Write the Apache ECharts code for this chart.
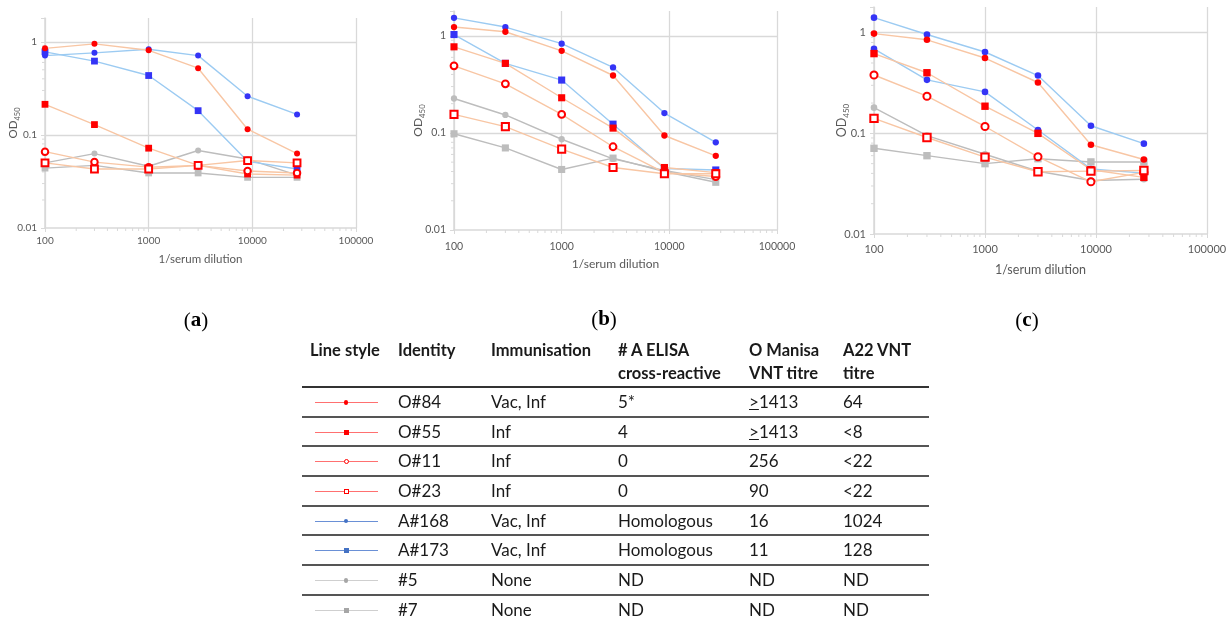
<!DOCTYPE html>
<html>
<head>
<meta charset="utf-8" />
<title>OD450 titration curves</title>
<script src="https://cdn.jsdelivr.net/npm/echarts/dist/echarts.min.js"></script>
<style>
	html, body { margin: 0; padding: 0; background: #fff; }
	#main { position: absolute; left: 0; top: 0; width: 1231px; height: 623px; }
	#legendTable { position: absolute; left: 302px; top: 339px; width: 627px; table-layout: fixed; border-collapse: collapse;
		font-family: Lato, "Open Sans", sans-serif; font-size: 17px; color: #1a1a1a; }
	#legendTable th { font-weight: bold; font-size: 16.5px; text-align: left; vertical-align: top; line-height: 23px;
		height: 47px; padding: 0 0 0 6px; border-bottom: 2px solid #333; }
	#legendTable td { height: 27.7px; padding: 0 0 0 6px; border-bottom: 2px solid #555; line-height: 18px; }
	.sample { position: relative; width: 88px; height: 20px; }
	.sample .ln { position: absolute; left: 13px; top: 10px; width: 63px; height: 1px; }
	.sample .mk { position: absolute; box-sizing: border-box; }
</style>
</head>
<body>
<div id="main"></div>
<table id="legendTable"><colgroup id="cols"></colgroup><thead id="tableHead"></thead><tbody id="tableBody"></tbody></table>
<script type="text/javascript">
	// x values: 1/serum dilution
	var dilutions = [100, 300, 1000, 3000, 9000, 27000];
	var yTicks = [0.01, 0.1, 1];
	var minorX = [200, 300, 400, 500, 600, 700, 800, 900, 2000, 3000, 4000, 5000, 6000, 7000, 8000, 9000,
		20000, 30000, 40000, 50000, 60000, 70000, 80000, 90000];
	var minorY = [0.02, 0.03, 0.04, 0.05, 0.06, 0.07, 0.08, 0.09, 0.2, 0.3, 0.4, 0.5, 0.6, 0.7, 0.8, 0.9];
	var panelNames = ['a', 'b', 'c'];

	// OD450 per serum, one row per panel (a), (b), (c)
	var O84 = [
		[0.85, 0.95, 0.81, 0.52, 0.115, 0.063],
		[1.23, 1.10, 0.70, 0.39, 0.094, 0.058],
		[0.98, 0.85, 0.56, 0.32, 0.077, 0.055]
	];
	var O55 = [
		[0.213, 0.129, 0.072, 0.047, 0.038, 0.037],
		[0.77, 0.52, 0.23, 0.112, 0.044, 0.039],
		[0.62, 0.40, 0.186, 0.100, 0.0435, 0.0365]
	];
	var O11 = [
		[0.066, 0.051, 0.045, 0.047, 0.041, 0.039],
		[0.49, 0.32, 0.155, 0.072, 0.039, 0.0355],
		[0.38, 0.234, 0.117, 0.0585, 0.033, 0.041]
	];
	var O23 = [
		[0.050, 0.043, 0.043, 0.047, 0.053, 0.050],
		[0.155, 0.116, 0.068, 0.044, 0.038, 0.038],
		[0.141, 0.091, 0.058, 0.0415, 0.0421, 0.0428]
	];
	var A168 = [
		[0.71, 0.76, 0.83, 0.71, 0.26, 0.166],
		[1.53, 1.23, 0.83, 0.472, 0.16, 0.080],
		[1.41, 0.96, 0.643, 0.375, 0.119, 0.079]
	];
	var A173 = [
		[0.78, 0.62, 0.434, 0.182, 0.052, 0.043],
		[1.03, 0.52, 0.35, 0.123, 0.043, 0.0415],
		[0.69, 0.34, 0.258, 0.108, 0.0443, 0.0403]
	];
	var S5 = [
		[0.050, 0.063, 0.046, 0.068, 0.055, 0.037],
		[0.226, 0.153, 0.086, 0.054, 0.041, 0.033],
		[0.180, 0.095, 0.062, 0.042, 0.034, 0.035]
	];
	var S7 = [
		[0.044, 0.047, 0.039, 0.039, 0.035, 0.035],
		[0.098, 0.070, 0.042, 0.055, 0.040, 0.031],
		[0.071, 0.060, 0.050, 0.056, 0.052, 0.052]
	];

	// table columns
	var headers = ['Line style', 'Identity', 'Immunisation', '# A ELISA<br>cross-reactive', 'O Manisa<br>VNT titre', 'A22 VNT<br>titre'];
	var identities = ['O#84', 'O#55', 'O#11', 'O#23', 'A#168', 'A#173', '#5', '#7'];
	var immunisation = ['Vac, Inf', 'Inf', 'Inf', 'Inf', 'Vac, Inf', 'Vac, Inf', 'None', 'None'];
	var elisaCross = ['5*', '4', '0', '0', 'Homologous', 'Homologous', 'ND', 'ND'];
	var manisaTitre = ['≥1413', '≥1413', '256', '90', '16', '11', 'ND', 'ND'];
	var a22Titre = ['64', '<8', '<22', '<22', '1024', '128', 'ND', 'ND'];

	var seriesValues = [O84, O55, O11, O23, A168, A173, S5, S7];
	var symbols = ['circle', 'rect', 'emptyCircle', 'emptyRect', 'circle', 'rect', 'circle', 'rect'];
	var groups = ['red', 'red', 'red', 'red', 'blue', 'blue', 'grey', 'grey'];

	var lineColor = { red: '#f8c6a4', blue: '#9ccbf2', grey: '#bdbdbd' };
	var markColor = { red: '#ff0000', blue: '#3434f6', grey: '#bdbdbd' };
	var sampleLine = { red: '#ff7070', blue: '#6a90d6', grey: '#cfcfcf' };
	var sampleMark = { red: '#ff0000', blue: '#4472c4', grey: '#a6a6a6' };

	var grids = [
		{ left: 45, top: 18, width: 311, height: 210 },
		{ left: 454, top: 11, width: 323, height: 219 },
		{ left: 874, top: 7, width: 333, height: 227 }
	];
	var tickFont = [10, 10.5, 11];
	var nameFont = [11.5, 12, 12.5];
	var symSize = [6, 6.3, 6.6];

	function isDecade(v) {
		var l = Math.log10(v);
		return Math.abs(l - Math.round(l)) < 1e-6;
	}

	function byId(id) { return document.getElementById(id); }

	var chart = echarts.init(byId('main'));
	var xAxes = [], yAxes = [], series = [], graphics = [];

	for (var p = 0; p < 3; p++) {
		xAxes.push({
			type: 'log', gridIndex: p, min: 100, max: 100000,
			name: '1/serum dilution', nameLocation: 'middle', nameGap: [25, 28, 29][p],
			nameTextStyle: { color: '#595959', fontFamily: 'Lato', fontSize: nameFont[p] },
			axisLine: { lineStyle: { color: '#d9d9d9', width: 1.5 } },
			axisTick: { show: true, length: 4, lineStyle: { color: '#d9d9d9' } },
			axisLabel: { color: '#595959', fontFamily: 'Lato', fontSize: tickFont[p], margin: [8, 11, 10][p],
				formatter: function(v) { return String(Math.round(v)); } },
			splitLine: { show: true, lineStyle: { color: '#d9d9d9', width: 1.3 } }
		});
		yAxes.push({
			type: 'log', gridIndex: p, min: 0.01, max: 1.8,
			name: '{m|OD}{s|450}', nameLocation: 'middle', nameGap: [24, 28, 24][p], nameMoveOverlap: false,
			nameTextStyle: { color: '#595959', fontFamily: 'Lato',
				rich: {
					m: { fontSize: nameFont[p], lineHeight: 16, color: '#595959', fontFamily: 'Lato' },
					s: { fontSize: nameFont[p] * 0.65, lineHeight: 16, verticalAlign: 'bottom', color: '#595959', fontFamily: 'Lato' }
				} },
			axisLine: { show: true, lineStyle: { color: '#d9d9d9', width: 1.5 } },
			axisTick: { show: true, length: 4, lineStyle: { color: '#d9d9d9' } },
			axisLabel: { color: '#595959', fontFamily: 'Lato', fontSize: tickFont[p], margin: 8,
				formatter: function(v) { return isDecade(v) ? String(+v.toPrecision(3)) : ''; } },
			splitLine: { show: false }
		});

		// minor ticks drawn on the axes' own scales
		var tickData = [];
		minorX.forEach(function(v) { tickData.push([v, 0.01, 0]); });
		minorY.forEach(function(v) { tickData.push([100, v, 1]); });
		series.push({
			type: 'custom', xAxisIndex: p, yAxisIndex: p, silent: true, z: 1, clip: false,
			encode: { x: 0, y: 1 },
			data: tickData,
			renderItem: function(params, api) {
				var pt = api.coord([api.value(0), api.value(1)]);
				var isX = api.value(2) === 0;
				return {
					type: 'line',
					shape: isX ? { x1: pt[0], y1: pt[1], x2: pt[0], y2: pt[1] + 3 }
						: { x1: pt[0] - 3, y1: pt[1], x2: pt[0], y2: pt[1] },
					style: { stroke: '#d9d9d9', lineWidth: 1 }
				};
			}
		});

		for (var k = 0; k < seriesValues.length; k++) {
			var g = groups[k];
			var sym = symbols[k];
			if (p === 2 && identities[k] === 'A#173') sym = 'circle';
			var isRect = sym.indexOf('ect') > 0;
			var isEmpty = sym.indexOf('empty') === 0;
			var pts = dilutions.map(function(d, i) { return [d, seriesValues[k][p][i]]; });
			var s = {
				type: 'line', name: identities[k], xAxisIndex: p, yAxisIndex: p,
				data: pts, symbol: sym,
				symbolSize: isRect ? symSize[p] + 0.8 : (isEmpty ? symSize[p] + 0.5 : symSize[p]),
				lineStyle: { color: lineColor[g], width: 1.4 },
				itemStyle: { color: markColor[g], borderWidth: isEmpty ? 1.3 : 0 },
				z: 2 + (g === 'grey' ? 0 : g === 'blue' ? 1 : 2),
				emphasis: { disabled: true }
			};
			if (k === 0) {
				s.markLine = {
					silent: true, symbol: 'none', z: 1, animation: false,
					label: { show: false },
					lineStyle: { color: '#d9d9d9', width: 1.3, type: 'solid' },
					data: yTicks.filter(function(v) { return v > 0.01; }).map(function(v) { return { yAxis: v }; })
				};
			}
			series.push(s);
		}
	}

	// panel captions
	var capPos = [[196, 321], [604, 320], [1027, 321]];
	for (var c = 0; c < 3; c++) {
		graphics.push({
			type: 'text', x: capPos[c][0], y: capPos[c][1],
			style: {
				text: '{p|(}{b|' + panelNames[c] + '}{p|)}', align: 'center', verticalAlign: 'middle',
				rich: {
					p: { fontFamily: 'Liberation Serif', fontSize: 21, fill: '#000' },
					b: { fontFamily: 'Liberation Serif', fontSize: 21, fontWeight: 'bold', fill: '#000' }
				}
			}
		});
	}

	chart.setOption({
		animation: false,
		grid: grids,
		xAxis: xAxes,
		yAxis: yAxes,
		series: series,
		graphic: graphics
	});

	// legend table
	var colW = [90, 93, 127, 131, 94, 92];
	var cols = '';
	for (var cw = 0; cw < colW.length; cw++) cols += '<col style="width:' + colW[cw] + 'px">';
	byId('cols').innerHTML = cols;

	var head = '<tr>';
	for (var h = 0; h < headers.length; h++) head += '<th' + (h === 0 ? ' style="padding-left:8px"' : '') + '>' + headers[h] + '</th>';
	head += '</tr>';
	byId('tableHead').innerHTML = head;

	var rows = '';
	for (var r = 0; r < identities.length; r++) {
		var gr = groups[r];
		var sy = symbols[r];
		var round = sy.indexOf('ircle') > 0;
		var empty = sy.indexOf('empty') === 0;
		var sz = empty ? 5 : (round ? 4.5 : 5);
		var mk = '<div class="mk" style="left:' + (44 - sz / 2) + 'px;top:' + (10.5 - sz / 2) + 'px;width:' + sz + 'px;height:' + sz + 'px;' +
			(round ? 'border-radius:50%;' : '') +
			(empty ? 'background:#fff;border:1.2px solid ' + sampleMark[gr] + ';' : 'background:' + sampleMark[gr] + ';') + '"></div>';
		rows += '<tr>';
		rows += '<td style="padding:0"><div class="sample"><div class="ln" style="background:' + sampleLine[gr] + '"></div>' + mk + '</div></td>';
		rows += '<td>' + identities[r] + '</td>';
		rows += '<td>' + immunisation[r] + '</td>';
		rows += '<td>' + elisaCross[r] + '</td>';
		rows += '<td>' + manisaTitre[r].replace('≥', '<u>&gt;</u>') + '</td>';
		rows += '<td>' + a22Titre[r].replace('<', '&lt;') + '</td>';
		rows += '</tr>';
	}
	byId('tableBody').innerHTML = rows;
</script>
</body>
</html>
